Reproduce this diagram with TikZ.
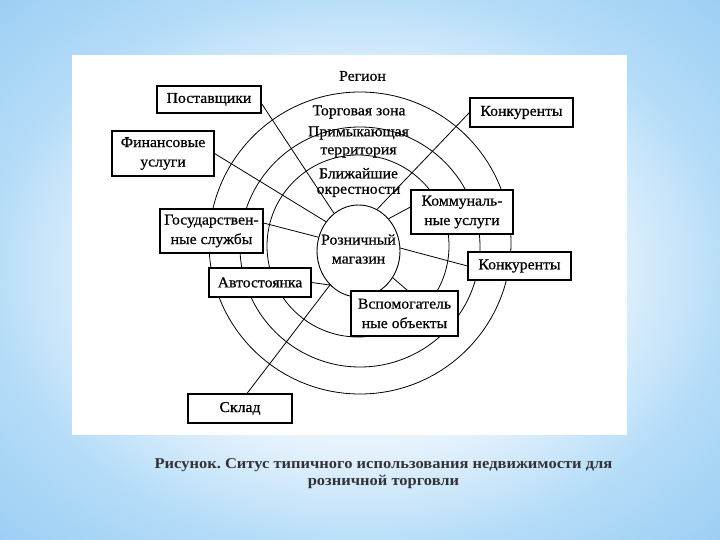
\documentclass[tikz,border=0pt]{standalone}
\usepackage{fontspec}
\setmainfont{Liberation Serif}
\newfontfamily\diagfont[FakeStretch=1.05,FakeBold=0.6]{Liberation Serif}
\newfontfamily\capfont[FakeStretch=1.1]{Liberation Serif}
\frenchspacing
\usetikzlibrary{shapes.geometric,calc}
\definecolor{bgA}{RGB}{222,239,252}
\definecolor{bgB}{RGB}{180,220,248}
\definecolor{bgC}{RGB}{155,206,244}
\definecolor{capgray}{RGB}{50,50,55}
\pgfdeclareradialshading{bgshade}{\pgfpoint{0bp}{0bp}}{color(0bp)=(white); color(10bp)=(white); color(18bp)=(bgA); color(26bp)=(bgB); color(36bp)=(bgC); color(50bp)=(bgC)}
\pgfdeclarelayer{backdrop}
\pgfdeclarelayer{lines}
\pgfsetlayers{backdrop,lines,main}
\tikzset{
  ring/.style={line width=0.8pt},
  conn/.style={line width=0.8pt},
  box/.style={draw, line width=1.1pt, fill=white, inner sep=0pt, align=center,
    font=\diagfont\fontsize{15}{19.5}\selectfont},
  lbl/.style={inner sep=0pt, align=center, font=\diagfont\fontsize{15}{18}\selectfont},
}
\begin{document}
\begin{tikzpicture}[x=1pt,y=-1pt]
\useasboundingbox (0,0) rectangle (720,540);
\begin{pgfonlayer}{backdrop}
\shade[shading=bgshade] (0,0) rectangle (720,540);
\fill[white] (72,55) rectangle (627,435);
\end{pgfonlayer}

% central store
\node[ellipse, draw, line width=0.9pt, fill=white, minimum width=83pt, minimum height=92pt, inner sep=0pt] (store) at (358.5,251) {};
\node[lbl, font=\diagfont\fontsize{15}{19}\selectfont] (storetxt) at (358.5,249) {Розничный\\магазин};

% zone labels
\node[lbl] (region) at (362.5,76) {Регион};
\node[lbl] (trade) at (359,112) {Торговая зона};
\node[lbl] (adjacent) at (358.5,142) {Примыкающая\\территория};
\node[lbl, font=\diagfont\fontsize{15}{15.5}\selectfont] (vicinity) at (358.5,182.5) {Ближайшие\\окрестности};

% boxes
\node[box, minimum width=104pt, minimum height=27pt] (post) at (209,99.5) {Поставщики};
\node[box, minimum width=102pt, minimum height=45pt] (fin) at (163,153.5) {Финансовые\\услуги};
\node[box, minimum width=103pt, minimum height=44pt] (gos) at (211.5,231) {Государствен-\\ные службы};
\node[box, minimum width=102pt, minimum height=29pt] (avto) at (260,282.5) {Автостоянка};
\node[box, minimum width=104pt, minimum height=29pt] (sklad) at (240,408.5) {Склад};
\node[box, minimum width=103pt, minimum height=29pt] (konk1) at (521.5,112.5) {Конкуренты};
\node[box, minimum width=102pt, minimum height=44pt] (komm) at (462,212) {Коммуналь-\\ные услуги};
\node[box, minimum width=103pt, minimum height=28pt] (konk2) at (519.5,266) {Конкуренты};
\node[box, minimum width=107pt, minimum height=45pt] (vspom) at (404.5,313.5) {Вспомогатель\\ные объекты};

\begin{pgfonlayer}{lines}
% concentric zones
\draw[ring] (360,243) circle[radius=151];
\draw[ring] (360,247) circle[radius=120];
\draw[ring] (358,246) circle[radius=91];
% connectors
\draw[conn] ($(post.east)+(0,4)$) -- (store.123);
\draw[conn] (fin.east) -- (store.138);
\draw[conn] ($(gos.east)+(0,-8)$) -- (store.161);
\draw[conn] (avto.east) -- (store.230);
\draw[conn] ($(sklad.north)+(7,0)$) -- (store.230);
\draw[conn] (store.322) -- ($(vspom.north)+(3,0)$);
\draw[conn] (store.4) -- (konk2.west);
\draw[conn] ($(komm.west)+(0,-5)$) -- (store.47);
\draw[conn] (konk1.west) -- (store.66);
\end{pgfonlayer}

% caption
\node[font=\capfont\bfseries\fontsize{15}{17}\selectfont, text=capgray, align=center, inner sep=0pt] (caption) at (383.5,474) {Рисунок. Ситус типичного использования недвижимости для\\розничной торговли};
\end{tikzpicture}
\end{document}
